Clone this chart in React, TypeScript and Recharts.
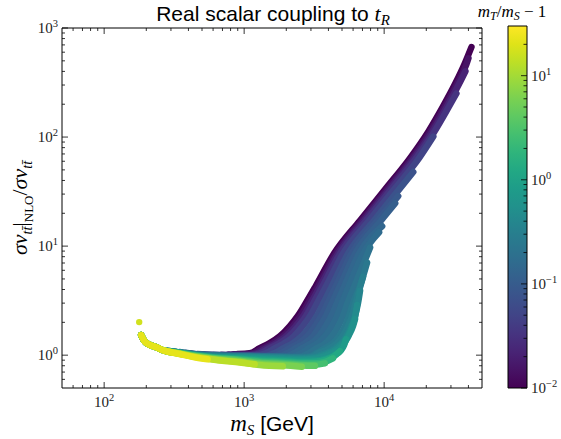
import React from 'react';
import { ComposedChart, Line, Area, XAxis, YAxis, ReferenceArea } from 'recharts';

const W = 561;
const H = 439;
// axes box of the reference, in px
const PLOT_L = 62;
const PLOT_R = 482;
const PLOT_T = 28;
const PLOT_B = 388;
const CBAR_L = 508;
const CBAR_R = 527;
const CBAR_T = 26;

const SERIF = "'Liberation Serif', 'DejaVu Serif', serif";
const SANS = "'Liberation Sans', Arial, sans-serif";

const X_MAJOR = [100, 1000, 10000];
const X_MINOR = [60, 70, 80, 90, 200, 300, 400, 500, 600, 700, 800, 900, 2000, 3000, 4000, 5000, 6000, 7000, 8000, 9000, 20000, 30000, 40000];
const Y_MAJOR = [1, 10, 100, 1000];
const Y_MINOR = [0.6, 0.7, 0.8, 0.9, 2, 3, 4, 5, 6, 7, 8, 9, 20, 30, 40, 50, 60, 70, 80, 90, 200, 300, 400, 500, 600, 700, 800, 900];
const CB_MAJOR = [0.01, 0.1, 1, 10];
const CB_MINOR = [0.02, 0.03, 0.04, 0.05, 0.06, 0.07, 0.08, 0.09, 0.2, 0.3, 0.4, 0.5, 0.6, 0.7, 0.8, 0.9, 2, 3, 4, 5, 6, 7, 8, 9, 20];

// colour scale: mT/mS - 1, log from 0.01 to 30
const R_MIN = 0.01;
const R_MAX = 30;
const CB_SPAN = [{ x: 0, top: R_MAX }, { x: 1, top: R_MAX }];

// r = mT/mS - 1 of each scan line, low to high (drawn in this order)
const R_LEVELS = [0.01, 0.015, 0.022, 0.033, 0.05, 0.074, 0.09, 0.11, 0.135, 0.16, 0.2, 0.25, 0.3, 0.37, 0.45, 0.55, 0.8, 1.2, 1.8, 2.7, 4, 6, 9, 13, 22];

// shared start of the heavier lines near threshold
const START_MS = [184, 194, 210, 236, 269];
const START_SV = [1.53, 1.344, 1.25, 1.18, 1.1];

// mS [GeV] and sigma v ratio, one pair per r
const MS_R0010 = [898, 1095, 1292, 1523, 1797, 2120, 2419, 2760, 3255, 4383, 6729, 10335, 15359, 20672, 26050, 32284, 37453, 42040];
const SV_R0010 = [1.024, 1.041, 1.16, 1.29, 1.49, 1.85, 2.29, 3.01, 4.33, 8.54, 17.2, 34.0, 64.4, 112, 186, 311, 465, 668];
const MS_R0015 = [841, 985, 1160, 1366, 1609, 1891, 2223, 2529, 2876, 3381, 4530, 6955, 10682, 15875, 21366, 26924, 33370, 38710, 40010];
const SV_R0015 = [1.017, 1.015, 1.041, 1.16, 1.29, 1.49, 1.85, 2.29, 3.01, 4.33, 8.54, 17.2, 34.0, 64.4, 112, 186, 311, 465, 528];
const MS_R0022 = [774, 1046, 1229, 1445, 1699, 1991, 2333, 2644, 2997, 3512, 4682, 7188, 11040, 16408, 22084, 27828, 34490, 38076];
const SV_R0022 = [1.012, 1.008, 1.041, 1.16, 1.29, 1.49, 1.85, 2.29, 3.01, 4.33, 8.54, 17.2, 34.0, 64.4, 112, 186, 311, 401];
const MS_R0033 = [690, 1110, 1302, 1528, 1794, 2095, 2447, 2765, 3124, 3648, 4839, 7429, 11410, 16958, 22826, 28762, 32822];
const SV_R0033 = [1.007, 1.0, 1.041, 1.16, 1.29, 1.49, 1.85, 2.29, 3.01, 4.33, 8.54, 17.2, 34.0, 64.4, 112, 186, 251];
const MS_R0050 = [605, 1213, 1421, 1663, 1948, 2264, 2627, 2958, 3326, 3865, 5084, 7806, 11991, 17818, 22452];
const SV_R0050 = [1.002, 0.992, 1.041, 1.16, 1.29, 1.49, 1.85, 2.29, 3.01, 4.33, 8.54, 17.2, 34.0, 64.4, 101];
const MS_R0074 = [512, 928, 1407, 1641, 1913, 2231, 2571, 2963, 3304, 3684, 4247, 5522, 8477, 13022, 16139];
const SV_R0074 = [1.015, 0.992, 0.985, 1.041, 1.16, 1.29, 1.49, 1.85, 2.29, 3.01, 4.33, 8.54, 17.2, 34.0, 47.8];
const MS_R009 = [464, 928, 1564, 1821, 2116, 2458, 2824, 3212, 3564, 3955, 4530, 5850, 8982, 12600];
const SV_R009 = [1.026, 0.987, 0.981, 1.041, 1.16, 1.29, 1.49, 1.85, 2.29, 3.01, 4.33, 8.54, 17.2, 28.7];
const MS_R011 = [420, 595, 1095, 1738, 2017, 2340, 2715, 3098, 3478, 3839, 4240, 4839, 6197, 9516, 11991];
const SV_R011 = [1.037, 0.99, 0.981, 0.977, 1.041, 1.16, 1.29, 1.49, 1.85, 2.29, 3.01, 4.33, 8.54, 17.2, 24.7];
const MS_R0135 = [381, 595, 1095, 1952, 2264, 2605, 3022, 3420, 3839, 4206, 4605, 5212, 6619, 9676];
const SV_R0135 = [1.052, 0.986, 0.979, 0.974, 1.041, 1.16, 1.29, 1.49, 1.85, 2.29, 3.01, 4.33, 8.54, 15.2];
const MS_R016 = [345, 595, 1095, 2191, 2542, 2900, 3365, 3777, 4240, 4605, 5001, 5614, 7070, 9207];
const SV_R016 = [1.07, 0.983, 0.977, 0.97, 1.041, 1.16, 1.29, 1.49, 1.85, 2.29, 3.01, 4.33, 8.54, 13.4];
const MS_R020 = [312, 595, 1095, 2499, 2876, 3309, 3807, 4240, 4720, 5084, 5477, 6147, 7938];
const SV_R020 = [1.084, 0.98, 0.975, 0.964, 1.041, 1.16, 1.29, 1.49, 1.85, 2.29, 3.01, 4.33, 9.71];
const MS_R025 = [283, 442, 928, 2120, 2853, 3255, 3777, 4311, 4760, 5255, 5614, 5996, 6729, 7553];
const SV_R025 = [1.1, 1.015, 0.972, 0.958, 0.966, 1.041, 1.16, 1.29, 1.49, 1.85, 2.29, 3.01, 4.33, 7.06];
const MS_R030 = [283, 442, 928, 2120, 2948, 3365, 4102, 4605, 5043, 5522, 5899, 6249, 7070];
const SV_R030 = [1.097, 1.012, 0.97, 0.95, 0.956, 1.041, 1.16, 1.29, 1.49, 1.85, 2.29, 3.01, 5.24];
const MS_R037 = [345, 442, 595, 928, 1292, 1888, 2584, 3048, 3478, 3903, 4456, 4919, 5343, 5802, 6197, 6511, 6729];
const SV_R037 = [1.057, 1.008, 0.97, 0.966, 0.956, 0.946, 0.936, 0.956, 0.998, 1.052, 1.16, 1.29, 1.49, 1.85, 2.29, 3.01, 3.89];
const MS_R045 = [345, 442, 595, 928, 1292, 1888, 2584, 3124, 3624, 4102, 4643, 5084, 5477, 5899, 6197, 6404];
const SV_R045 = [1.056, 1.006, 0.967, 0.959, 0.947, 0.935, 0.924, 0.94, 0.987, 1.052, 1.16, 1.302, 1.49, 1.85, 2.24, 2.89];
const MS_R055 = [345, 442, 595, 928, 1292, 1888, 2584, 3202, 3777, 4311, 4839, 5255, 5614, 5996, 6197];
const SV_R055 = [1.055, 1.004, 0.964, 0.952, 0.938, 0.924, 0.913, 0.926, 0.977, 1.052, 1.16, 1.32, 1.53, 1.85, 2.14];
const MS_R080 = [345, 442, 595, 928, 1292, 1888, 2584, 3202, 3777, 4383, 4919, 5169, 5343];
const SV_R080 = [1.05, 1.002, 0.958, 0.94, 0.92, 0.903, 0.89, 0.893, 0.926, 0.998, 1.11, 1.23, 1.4];
const MS_R12 = [345, 442, 595, 928, 1292, 1888, 2584, 3202, 3839, 4383, 4839];
const SV_R12 = [1.048, 0.998, 0.956, 0.926, 0.899, 0.882, 0.865, 0.869, 0.907, 0.977, 1.09];
const MS_R18 = [345, 442, 595, 928, 1292, 1888, 2584, 3202, 3777, 4311];
const SV_R18 = [1.043, 0.992, 0.948, 0.915, 0.882, 0.863, 0.844, 0.842, 0.869, 0.936];
const MS_R27 = [345, 442, 595, 928, 1292, 1888, 2584, 3202, 3777];
const SV_R27 = [1.041, 0.987, 0.942, 0.903, 0.863, 0.844, 0.822, 0.819, 0.842];
const MS_R4 = [345, 442, 595, 928, 1292, 1888, 2584, 3202];
const SV_R4 = [1.039, 0.981, 0.934, 0.89, 0.846, 0.826, 0.802, 0.798];
const MS_R6 = [345, 442, 595, 928, 1292, 1888, 2584];
const SV_R6 = [1.035, 0.977, 0.926, 0.878, 0.829, 0.809, 0.785];
const MS_R9 = [345, 442, 595, 928, 1292, 1888];
const SV_R9 = [1.033, 0.97, 0.918, 0.865, 0.812, 0.79];
const MS_R13 = [345, 442, 595, 928, 1189];
const SV_R13 = [1.03, 0.964, 0.913, 0.855, 0.824];
const MS_R22 = [345, 442, 548];
const SV_R22 = [1.026, 0.956, 0.917];

// the lone point at threshold
const LONE_MS = [178];
const LONE_SV = [2.01];
const LONE_R = 17;

const VIRIDIS = [
  '#440154', '#471365', '#482475', '#463480', '#414487', '#3b528b', '#355f8d',
  '#2f6c8e', '#2a788e', '#25848e', '#21918c', '#1e9c89', '#22a884', '#2fb47c',
  '#44bf70', '#5ec962', '#7ad151', '#9bd93c', '#bddf26', '#dfe318', '#fde725',
];

const hex = (c: string) => [1, 3, 5].map(i => parseInt(c.slice(i, i + 2), 16));

const viridis = (t: number) => {
  const tt = Math.max(0, Math.min(1, t)) * 20;
  const i = Math.min(19, Math.floor(tt));
  const f = tt - i;
  const a = hex(VIRIDIS[i]);
  const b = hex(VIRIDIS[i + 1]);
  return `rgb(${a.map((v, k) => Math.round(v + (b[k] - v) * f)).join(',')})`;
};

const colorOf = (r: number) =>
  viridis((Math.log10(r) - Math.log10(R_MIN)) / (Math.log10(R_MAX) - Math.log10(R_MIN)));

const toPoints = (ms: number[], sv: number[]) => ms.map((m, i) => ({ m, v: sv[i] }));

const withStart = (ms: number[], sv: number[]) => toPoints([...START_MS, ...ms], [...START_SV, ...sv]);

const LEVEL_POINTS = [
  toPoints(MS_R0010, SV_R0010),
  toPoints(MS_R0015, SV_R0015),
  toPoints(MS_R0022, SV_R0022),
  toPoints(MS_R0033, SV_R0033),
  toPoints(MS_R0050, SV_R0050),
  toPoints(MS_R0074, SV_R0074),
  toPoints(MS_R009, SV_R009),
  toPoints(MS_R011, SV_R011),
  toPoints(MS_R0135, SV_R0135),
  toPoints(MS_R016, SV_R016),
  toPoints(MS_R020, SV_R020),
  toPoints(MS_R025, SV_R025),
  toPoints(MS_R030, SV_R030),
  withStart(MS_R037, SV_R037),
  withStart(MS_R045, SV_R045),
  withStart(MS_R055, SV_R055),
  withStart(MS_R080, SV_R080),
  withStart(MS_R12, SV_R12),
  withStart(MS_R18, SV_R18),
  withStart(MS_R27, SV_R27),
  withStart(MS_R4, SV_R4),
  withStart(MS_R6, SV_R6),
  withStart(MS_R9, SV_R9),
  withStart(MS_R13, SV_R13),
  withStart(MS_R22, SV_R22),
];

const expLabel = (v: number) => {
  const e = Math.round(Math.log10(v));
  return e < 0 ? `\u2212${-e}` : `${e}`;
};

const renderXTick = (props: any) => {
  const { x, payload } = props;
  const major = X_MAJOR.includes(payload.value);
  const len = major ? 6 : 3;
  return (
    <g>
      <line x1={x} x2={x} y1={PLOT_B} y2={PLOT_B - len} stroke="#000" strokeWidth={0.8} />
      <line x1={x} x2={x} y1={PLOT_T} y2={PLOT_T + len} stroke="#000" strokeWidth={0.8} />
      {major && (
        <text x={x} y={PLOT_B + 19} textAnchor="middle" fontFamily={SERIF} fontSize={15} fill="#222">
          10<tspan dy={-6} fontSize={10.5}>{expLabel(payload.value)}</tspan>
        </text>
      )}
    </g>
  );
};

const renderYTick = (props: any) => {
  const { y, payload } = props;
  const major = Y_MAJOR.includes(payload.value);
  const len = major ? 6 : 3;
  return (
    <g>
      <line x1={PLOT_L} x2={PLOT_L + len} y1={y} y2={y} stroke="#000" strokeWidth={0.8} />
      <line x1={PLOT_R} x2={PLOT_R - len} y1={y} y2={y} stroke="#000" strokeWidth={0.8} />
      {major && (
        <text x={PLOT_L - 4} y={y + 5} textAnchor="end" fontFamily={SERIF} fontSize={15} fill="#222">
          10<tspan dy={-6} fontSize={10.5}>{expLabel(payload.value)}</tspan>
        </text>
      )}
    </g>
  );
};

const renderCbTick = (props: any) => {
  const { y, payload } = props;
  const major = CB_MAJOR.includes(payload.value);
  const len = major ? 6 : 3.5;
  return (
    <g>
      <line x1={CBAR_R} x2={CBAR_R - len} y1={y} y2={y} stroke="#000" strokeWidth={0.8} />
      {major && (
        <text x={CBAR_R + 4} y={y + 5} textAnchor="start" fontFamily={SERIF} fontSize={15} fill="#222">
          10<tspan dy={-6} fontSize={10.5}>{expLabel(payload.value)}</tspan>
        </text>
      )}
    </g>
  );
};

const Labels = () => (
  <svg width={W} height={H} style={{ position: 'absolute', left: 0, top: 0 }}>
    <text x={273} y={21} textAnchor="middle" fontFamily={SANS} fontSize={21} fill="#000">
      Real scalar coupling to{'\u00a0'}
      <tspan fontFamily={SERIF} fontStyle="italic" fontSize={22}>t</tspan>
      <tspan fontFamily={SERIF} fontStyle="italic" fontSize={15} dy={4}>R</tspan>
    </text>
    <text x={272} y={431} textAnchor="middle" fill="#000">
      <tspan fontFamily={SERIF} fontStyle="italic" fontSize={23}>m</tspan>
      <tspan fontFamily={SERIF} fontStyle="italic" fontSize={15} dy={4}>S</tspan>
      <tspan fontFamily={SANS} fontSize={21} dy={-4}>{'\u00a0[GeV]'}</tspan>
    </text>
    <text transform="translate(27,208) rotate(-90)" textAnchor="middle" fontFamily={SERIF} fontSize={22} fill="#000">
      <tspan fontStyle="italic">σv</tspan>
      <tspan fontStyle="italic" fontSize={14} dy={5}>{'tt\u0304'}</tspan>
      <tspan dy={-5}>|</tspan>
      <tspan fontSize={13} dy={6}>NLO</tspan>
      <tspan dy={-6}>/</tspan>
      <tspan fontStyle="italic">σv</tspan>
      <tspan fontStyle="italic" fontSize={14} dy={5}>{'tt\u0304'}</tspan>
    </text>
    <text x={512} y={17} textAnchor="middle" fontFamily={SERIF} fontSize={17} fill="#000">
      <tspan fontStyle="italic">m</tspan>
      <tspan fontStyle="italic" fontSize={12} dy={3}>T</tspan>
      <tspan dy={-3}>/</tspan>
      <tspan fontStyle="italic">m</tspan>
      <tspan fontStyle="italic" fontSize={12} dy={3}>S</tspan>
      <tspan dy={-3}>{'\u00a0\u2212\u00a01'}</tspan>
    </text>
  </svg>
);

const App: React.FC = () => {
  const lone = toPoints(LONE_MS, LONE_SV);
  return (
    <div style={{ position: 'absolute', left: 0, top: 0, width: W, height: H, background: '#fff' }}>
      <div style={{ position: 'absolute', left: 0, top: 0 }}>
        <ComposedChart
          width={W}
          height={H}
          margin={{ top: PLOT_T, right: W - PLOT_R, bottom: H - PLOT_B - 30, left: PLOT_L - 40 }}
        >
          <XAxis
            type="number"
            dataKey="m"
            scale="log"
            domain={[50, 50000]}
            allowDataOverflow
            ticks={[...X_MAJOR, ...X_MINOR]}
            interval={0}
            tick={renderXTick}
            tickLine={false}
            axisLine={false}
            tickSize={0}
            tickMargin={0}
            height={30}
          />
          <YAxis
            type="number"
            scale="log"
            domain={[0.5, 1000]}
            allowDataOverflow
            ticks={[...Y_MAJOR, ...Y_MINOR]}
            interval={0}
            tick={renderYTick}
            tickLine={false}
            axisLine={false}
            tickSize={0}
            tickMargin={0}
            width={40}
          />
          {LEVEL_POINTS.map((pts, i) => (
            <Line
              key={`level-${i}`}
              data={pts}
              dataKey="v"
              type="monotone"
              stroke={colorOf(R_LEVELS[i])}
              strokeWidth={6.5}
              strokeLinecap="round"
              strokeLinejoin="round"
              dot={false}
              activeDot={false}
              isAnimationActive={false}
            />
          ))}
          <Line
            data={lone}
            dataKey="v"
            stroke="none"
            dot={{ r: 3.2, fill: colorOf(LONE_R), stroke: 'none' }}
            activeDot={false}
            isAnimationActive={false}
          />
          <ReferenceArea x1={50} x2={50000} y1={0.5} y2={1000} fill="none" stroke="#000" strokeWidth={1} ifOverflow="visible" />
        </ComposedChart>
      </div>
      <div style={{ position: 'absolute', left: 0, top: 0 }}>
        <ComposedChart
          width={W}
          height={H}
          data={CB_SPAN}
          margin={{ top: CBAR_T, right: W - CBAR_R - 30, bottom: H - PLOT_B, left: CBAR_L }}
        >
          <defs>
            <linearGradient id="viridisBar" x1="0" y1="1" x2="0" y2="0">
              {VIRIDIS.map((c, i) => (
                <stop key={c} offset={i / (VIRIDIS.length - 1)} stopColor={c} />
              ))}
            </linearGradient>
          </defs>
          <XAxis type="number" dataKey="x" domain={[0, 1]} allowDataOverflow hide />
          <YAxis
            type="number"
            orientation="right"
            scale="log"
            domain={[R_MIN, R_MAX]}
            allowDataOverflow
            ticks={[...CB_MAJOR, ...CB_MINOR]}
            interval={0}
            tick={renderCbTick}
            tickLine={false}
            axisLine={false}
            tickSize={0}
            tickMargin={0}
            width={30}
          />
          <Area
            dataKey="top"
            type="linear"
            baseValue={R_MIN}
            fill="url(#viridisBar)"
            fillOpacity={1}
            stroke="none"
            dot={false}
            activeDot={false}
            isAnimationActive={false}
          />
          <ReferenceArea x1={0} x2={1} y1={R_MIN} y2={R_MAX} fill="none" stroke="#000" strokeWidth={1} ifOverflow="visible" />
        </ComposedChart>
      </div>
      <Labels />
    </div>
  );
};

export default App;
